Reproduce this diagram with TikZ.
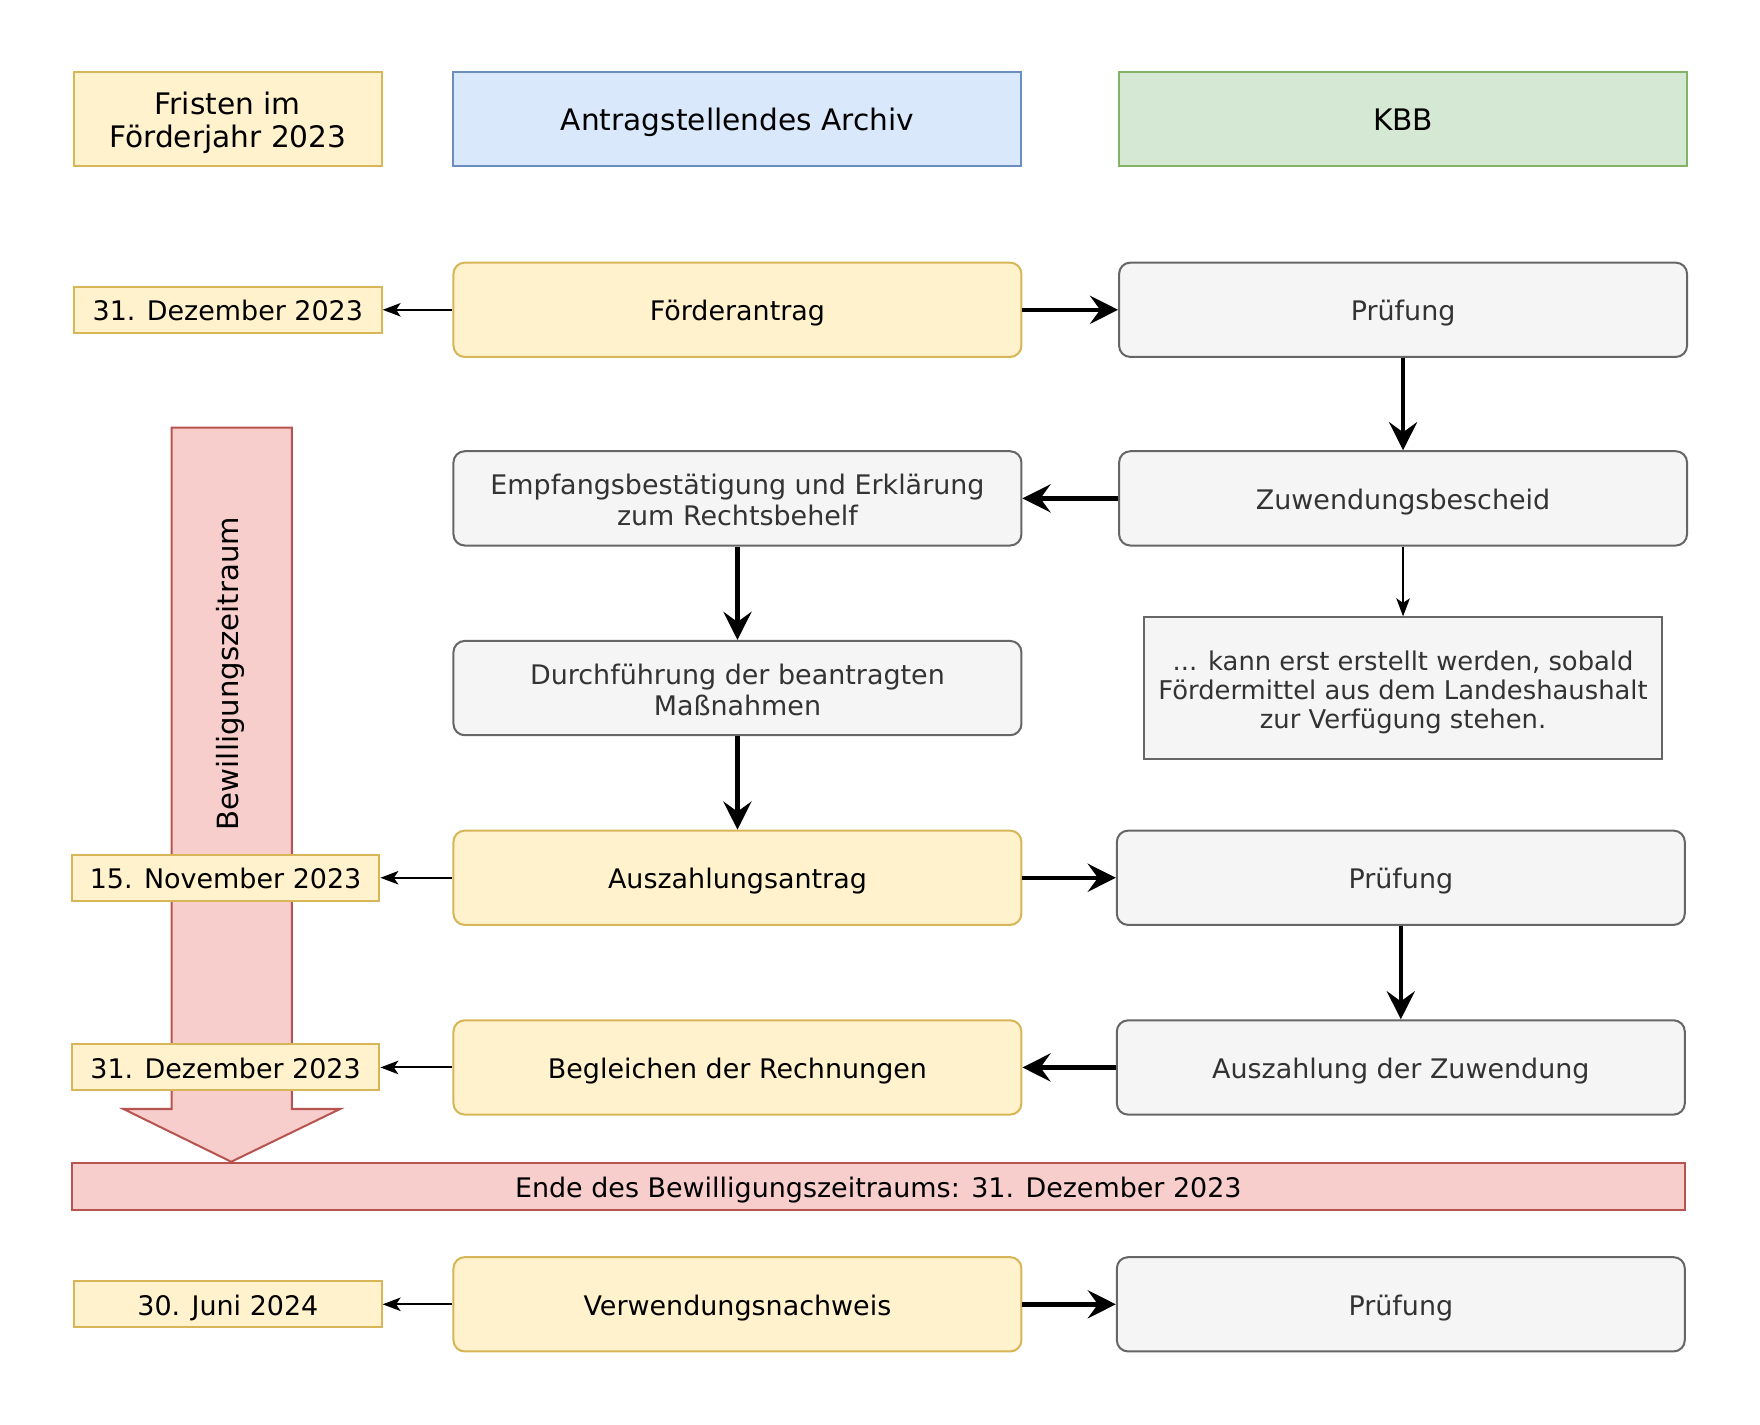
\documentclass[tikz,border=0pt]{standalone}
\usepackage{fontspec}
\setmainfont{DejaVu Sans}
\usetikzlibrary{arrows.meta}
\definecolor{gelbF}{HTML}{FFF2CC}
\definecolor{gelbR}{HTML}{D6B656}
\definecolor{blauF}{HTML}{DAE8FC}
\definecolor{blauR}{HTML}{6C8EBF}
\definecolor{gruenF}{HTML}{D5E8D4}
\definecolor{gruenR}{HTML}{82B366}
\definecolor{grauF}{HTML}{F5F5F5}
\definecolor{grauR}{HTML}{666666}
\definecolor{grauT}{HTML}{333333}
\definecolor{rotF}{HTML}{F8CECC}
\definecolor{rotR}{HTML}{B85450}
\newcommand{\zeilen}[1]{\raisebox{-2.4pt}[\height][\depth]{\begin{tabular}{@{}c@{}}#1\end{tabular}}}
\begin{document}
\begin{tikzpicture}[x=0.5pt,y=-0.5pt,
		kasten/.style={draw,line width=0.9pt,inner sep=2pt,align=center,text height=9.6pt,text depth=0pt,font=\fontsize{12}{14}\selectfont},
		mehr/.style={text height=,text depth=},
		kopf/.style={kasten,minimum width=253pt,minimum height=42pt,text height=10.6pt,font=\fontsize{13.2}{15}\selectfont},
		frist/.style={kasten,fill=gelbF,draw=gelbR,minimum width=137pt,minimum height=20.5pt},
		gelb/.style={kasten,rounded corners=5pt,fill=gelbF,draw=gelbR,minimum width=253pt,minimum height=42pt},
		grau/.style={kasten,rounded corners=5pt,fill=grauF,draw=grauR,text=grauT,minimum width=253pt,minimum height=42pt},
		dick/.style={-{Stealth[length=12.5pt,width=12.5pt,inset=4.5pt]},line width=2pt},
		duenn/.style={-{Stealth[length=8pt,width=6pt,inset=2pt]},line width=0.9pt}]
		\useasboundingbox (0,0) rectangle (1568,1269);
		% Zeitraum-Pfeil
		\draw[fill=rotF,draw=rotR,line width=0.9pt] (153,381) -- (260,381) -- (260,988) -- (303,988) -- (206,1035) -- (110,988) -- (153,988) -- cycle;
		\node[rotate=90,font=\fontsize{13}{15}\selectfont] (zeitraum) at (205,600) {Bewilligungszeitraum};
		% Kopfzeile
		\node[kopf,mehr,fill=gelbF,draw=gelbR,minimum width=137pt] (fristen) at (203,106) {\zeilen{Fristen im\\Förderjahr 2023}};
		\node[kopf,fill=blauF,draw=blauR] (archiv) at (657,106) {Antragstellendes Archiv};
		\node[kopf,fill=gruenF,draw=gruenR] (kbb) at (1250,106) {KBB};
		% Schritte
		\node[frist] (frist1) at (203,276) {31. Dezember 2023};
		\node[gelb] (antrag) at (657,276) {Förderantrag};
		\node[grau] (pruef1) at (1250,276) {Prüfung};
		\node[grau,mehr] (empf) at (657,444) {\zeilen{Empfangsbestätigung und Erklärung\\zum Rechtsbehelf}};
		\node[grau] (bescheid) at (1250,444) {Zuwendungsbescheid};
		\node[kasten,mehr,fill=grauF,draw=grauR,text=grauT,minimum width=231pt,minimum height=63pt,font=\fontsize{11.5}{13}\selectfont] (hinweis) at (1250,613) {\zeilen{... kann erst erstellt werden, sobald\\Fördermittel aus dem Landeshaushalt\\zur Verfügung stehen.}};
		\node[grau,mehr] (durch) at (657,613) {\zeilen{Durchführung der beantragten\\Maßnahmen}};
		\node[frist] (frist2) at (201,782) {15. November 2023};
		\node[gelb] (auszantrag) at (657,782) {Auszahlungsantrag};
		\node[grau] (pruef2) at (1248,782) {Prüfung};
		\node[frist] (frist3) at (201,951) {31. Dezember 2023};
		\node[gelb] (begl) at (657,951) {Begleichen der Rechnungen};
		\node[grau] (ausz) at (1248,951) {Auszahlung der Zuwendung};
		\node[kasten,fill=rotF,draw=rotR,minimum width=718.5pt,minimum height=21pt] (ende) at (782.5,1057) {Ende des Bewilligungszeitraums: 31. Dezember 2023};
		\node[frist] (frist4) at (203,1162) {30. Juni 2024};
		\node[gelb] (nachweis) at (657,1162) {Verwendungsnachweis};
		\node[grau] (pruef3) at (1248,1162) {Prüfung};
		% Verbindungen
		\draw[duenn] (antrag) -- (frist1);
		\draw[dick] (antrag) -- (pruef1);
		\draw[dick] (pruef1) -- (bescheid);
		\draw[dick] (bescheid) -- (empf);
		\draw[duenn] (bescheid) -- (hinweis);
		\draw[dick] (empf) -- (durch);
		\draw[dick] (durch) -- (auszantrag);
		\draw[duenn] (auszantrag) -- (frist2);
		\draw[dick] (auszantrag) -- (pruef2);
		\draw[dick] (pruef2) -- (ausz);
		\draw[dick] (ausz) -- (begl);
		\draw[duenn] (begl) -- (frist3);
		\draw[duenn] (nachweis) -- (frist4);
		\draw[dick] (nachweis) -- (pruef3);
	\end{tikzpicture}
\end{document}
